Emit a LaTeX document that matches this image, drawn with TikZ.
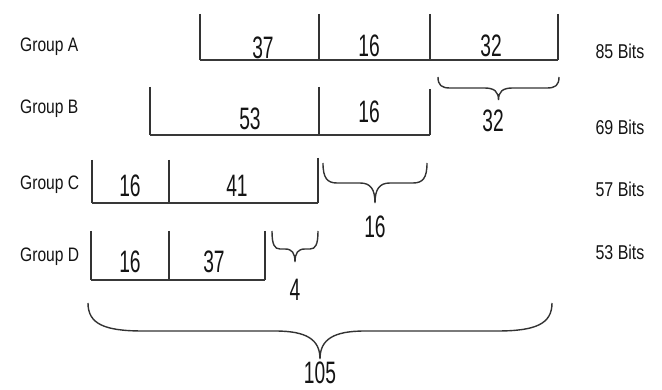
\documentclass[tikz,border=0pt]{standalone}
\usepackage{fontspec}
\usepackage{graphicx}
\setmainfont{Liberation Sans}
% condensed text: horizontal squeeze of the sans face
\newcommand\narrowtext[2]{\scalebox{#1}[1]{#2}}
% curly brace opening upwards: left x, right x, top y, middle y, tip y, end width, middle width
\newcommand\drawbrace[7]{%
  \draw[bracestroke] (#1,#3)
    .. controls (#1,{#4-0.25*(#4-#3)}) and ({#1+0.3*#6},#4) .. ({#1+#6},#4)
    -- ({(#1+#2)/2-#7},#4)
    .. controls ({(#1+#2)/2-0.3*#7},#4) and ({(#1+#2)/2},{#4+0.3*(#5-#4)}) .. ({(#1+#2)/2},#5)
    .. controls ({(#1+#2)/2},{#4+0.3*(#5-#4)}) and ({(#1+#2)/2+0.3*#7},#4) .. ({(#1+#2)/2+#7},#4)
    -- ({#2-#6},#4)
    .. controls ({#2-0.3*#6},#4) and (#2,{#4-0.25*(#4-#3)}) .. (#2,#3);}
\begin{document}
\begin{tikzpicture}[x=1pt,y=-1pt,
  sidebar/.style={draw=black!80, line width=1.3pt},
  floor/.style={draw=black!78, line width=2pt},
  bracestroke/.style={draw=black!80, line width=1.4pt},
  grouplbl/.style={anchor=base west, inner sep=0pt, text=black!92,
    font=\fontsize{19.5}{19.5}\selectfont},
  bitslbl/.style={anchor=base, inner sep=0pt, text=black!92,
    font=\fontsize{20}{20}\selectfont},
  fieldnum/.style={anchor=base, inner sep=0pt, text=black!92,
    font=\fontsize{31}{31}\selectfont}]
\useasboundingbox (0,0) rectangle (662,390);
\fill[white] (0,0) rectangle (662,390);

% ---- group labels ----
\node[grouplbl] (ga) at (20,52)  {\narrowtext{0.8}{Group A}};
\node[grouplbl] (gb) at (20,114) {\narrowtext{0.8}{Group B}};
\node[grouplbl] (gc) at (20,190) {\narrowtext{0.8}{Group C}};
\node[grouplbl] (gd) at (20,262) {\narrowtext{0.8}{Group D}};

% ---- totals ----
\node[bitslbl] (ta) at (620,59)  {\narrowtext{0.8}{85 Bits}};
\node[bitslbl] (tb) at (620,135) {\narrowtext{0.8}{69 Bits}};
\node[bitslbl] (tc) at (620,197) {\narrowtext{0.8}{57 Bits}};
\node[bitslbl] (td) at (620,260) {\narrowtext{0.8}{53 Bits}};

% ---- Group A: 37 | 16 | 32 ----
\draw[sidebar] (200,14) -- (200,60);
\draw[sidebar] (319,14) -- (319,60);
\draw[sidebar] (430,14) -- (430,60);
\draw[sidebar] (558,14) -- (558,60);
\draw[floor] (200,60) -- (558,60);
\node[fieldnum] (a1) at (263,59) {\narrowtext{0.62}{37}};
\node[fieldnum] (a2) at (369,57) {\narrowtext{0.62}{16}};
\node[fieldnum] (a3) at (491,57) {\narrowtext{0.62}{32}};

% ---- Group B: 53 | 16 ----
\draw[sidebar] (150,87) -- (150,135);
\draw[sidebar] (319,87) -- (319,135);
\draw[sidebar] (430,89) -- (430,135);
\draw[floor] (150,135) -- (430,135);
\node[fieldnum] (b1) at (250,130) {\narrowtext{0.62}{53}};
\node[fieldnum] (b2) at (369,123) {\narrowtext{0.62}{16}};

% ---- Group C: 16 | 41 ----
\draw[sidebar] (92,160) -- (92,203);
\draw[sidebar] (169,160) -- (169,203);
\draw[sidebar] (318,158) -- (318,203);
\draw[floor] (92,203) -- (318,203);
\node[fieldnum] (c1) at (130,197) {\narrowtext{0.62}{16}};
\node[fieldnum] (c2) at (237,197) {\narrowtext{0.62}{41}};

% ---- Group D: 16 | 37 ----
\draw[sidebar] (91,231) -- (91,280);
\draw[sidebar] (169,231) -- (169,280);
\draw[sidebar] (265,231) -- (265,280);
\draw[floor] (91,280) -- (265,280);
\node[fieldnum] (d1) at (130,273) {\narrowtext{0.62}{16}};
\node[fieldnum] (d2) at (214,273) {\narrowtext{0.62}{37}};

% ---- braces with their widths ----
\drawbrace{438}{559}{77}{88}{100}{12}{14}
\node[fieldnum] (w32) at (493,132) {\narrowtext{0.62}{32}};

\drawbrace{323}{427}{163}{183}{203}{14}{15}
\node[fieldnum] (w16) at (375,238) {\narrowtext{0.62}{16}};

\drawbrace{272}{318}{231}{249}{262}{8}{10}
\node[fieldnum] (w4) at (295,301) {\narrowtext{0.62}{4}};

\drawbrace{88}{552}{303}{331}{359}{55}{45}
\node[fieldnum] (w105) at (320,383) {\narrowtext{0.62}{105}};
\end{tikzpicture}
\end{document}
